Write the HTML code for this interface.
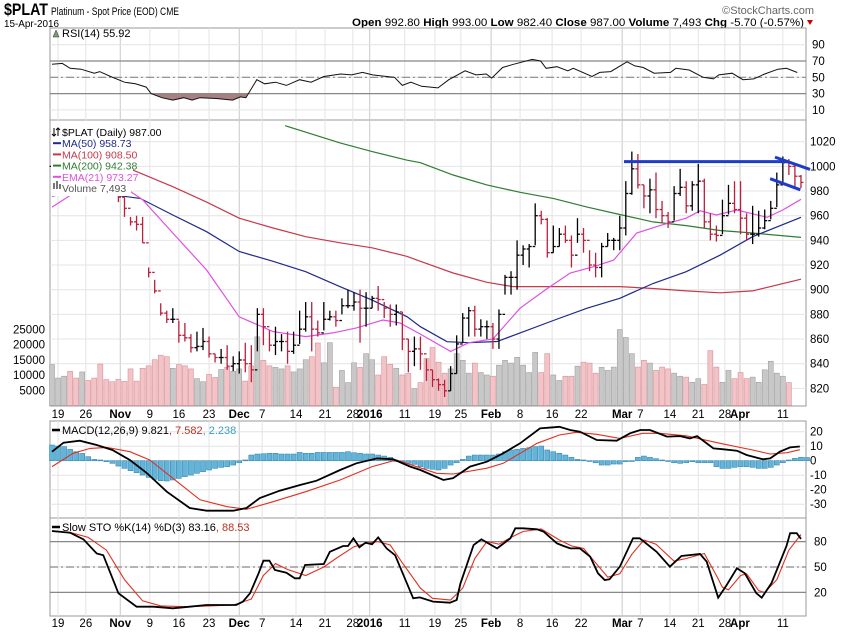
<!DOCTYPE html>
<html><head><meta charset="utf-8"><style>
html,body{margin:0;padding:0;background:#fff}
svg{display:block}
text{font-family:"Liberation Sans",sans-serif}
</style></head><body>
<svg id="chart" width="850" height="633" viewBox="0 0 850 633" xmlns="http://www.w3.org/2000/svg">
<g>
<text x="4" y="15" font-size="17" font-weight="bold" textLength="44" lengthAdjust="spacingAndGlyphs">$PLAT</text>
<text x="51" y="15" font-size="11" textLength="128" lengthAdjust="spacingAndGlyphs">Platinum  - Spot Price (EOD)  CME</text>
<text x="4" y="27" font-size="10" textLength="55" lengthAdjust="spacingAndGlyphs">15-Apr-2016</text>
<text x="814" y="14" font-size="11" fill="#666" text-anchor="end">©StockCharts.com</text>
<text x="804" y="26" font-size="11" text-anchor="end" textLength="452" lengthAdjust="spacingAndGlyphs"><tspan font-weight="bold">Open</tspan> 992.80 <tspan font-weight="bold">High</tspan> 993.00 <tspan font-weight="bold">Low</tspan> 982.40 <tspan font-weight="bold">Close</tspan> 987.00 <tspan font-weight="bold">Volume</tspan> 7,493 <tspan font-weight="bold">Chg</tspan> -5.70 (-0.57%)</text>
<polygon points="807,20 813,20 810,25" fill="#c00"/>
</g>
<g id="grid"></g>
<g id="marks"></g>
<g id="overlay"></g>
</svg>
<script>
// ---------- data ----------
const closes=[1000,1005,1008,1002,998,1003,1000,995,992,990,985,
975,966,955,953,938,914,899,881,876,876,863,861,853,854,858,848,845,845,838,840,843,840,835,880,870,855,858,858,850,855,868,878,868,865,876,878,875,887,887,890,885,885,893,892,885,880,882,860,850,852,848,
835,827,823,818,832,856,877,883,868,870,870,860,880,910,910,928,933,935,960,957,930,935,945,940,928,945,940,920,918,935,940,940,950,978,998,985,976,981,965,960,955,978,983,968,985,988,955,945,944,960,970,965,958,945,945,950,956,966,985,1003,1000,992,987];
const highs=[1006,1011,1014,1008,1004,1009,1006,1001,998,996,991,
983,975,959,960,959,918,908,889,883,885,875,873,864,866,869,862,848,852,855,846,850,857,855,885,885,867,870,864,866,866,883,890,890,875,890,883,883,893,900,898,900,898,895,903,890,888,888,882,860,862,862,
844,835,828,827,838,863,881,886,887,876,875,873,884,912,915,940,936,937,970,964,958,952,950,952,944,958,950,932,930,938,946,942,960,988,1012,1010,985,990,995,972,963,984,998,988,988,1002,990,962,952,973,985,988,988,962,968,964,965,972,995,1008,1006,1002,993];
const lows=[994,999,1002,996,992,997,994,989,986,984,979,
971,959,952,948,938,910,897,879,873,873,857,858,849,850,851,845,841,840,835,834,832,833,825,850,855,850,847,850,840,848,856,866,850,862,867,875,870,880,885,883,857,870,885,883,877,870,871,851,833,838,835,
826,821,818,813,818,832,857,862,862,862,860,852,852,896,896,900,920,918,936,953,926,930,935,938,918,938,930,915,910,910,935,932,932,944,977,982,966,962,958,954,950,956,976,962,964,962,950,940,939,945,961,962,945,940,937,943,949,957,967,987,993,983,982.4];
const volumes=[13.4,9.0,9.6,11.2,9.0,11.0,8.2,9.0,13.6,8.5,7.8,8.6,7.9,12.0,8.0,12.2,13.0,15.0,16.5,16.0,12.2,13.4,13.0,12.0,8.8,7.8,10.2,9.2,11.8,12.5,11.2,12.0,8.0,13.0,22.5,14.8,13.0,12.5,12.0,13.0,11.0,12.0,15.0,16.0,20.5,14.0,20.6,6.0,11.5,7.5,14.0,12.5,17.0,15.0,10.0,16.0,13.5,12.2,10.0,10.5,5.5,7.5,
15.4,19.0,14.2,10.6,12.0,17.0,14.8,10.6,13.9,10.8,10.0,9.6,13.2,14.8,13.9,15.8,13.2,10.8,17.4,10.8,17.0,10.0,8.2,9.6,9.6,12.9,14.2,13.9,10.6,12.5,11.5,12.6,24.9,22.3,17.0,12.6,14.8,13.9,11.5,12.6,12.0,10.6,9.6,9.3,7.6,8.8,6.9,18.0,12.6,7.6,11.5,8.8,10.8,8.8,9.3,7.6,11.7,14.5,10.6,9.6,7.5];
// moving averages: [bar index, value] samples
const ma50Idx=[0,3.5,9,14.6,20,25.6,31,36.6,42,47.7,53,58.8,61,65.4,69,73.7,77.5,83,88.6,94,99.5,105,110.6,116,124];
const ma50Val=[976,978.6,977.6,974,960.6,947,931,923,914.6,902.4,891.6,878,870,857.8,857,858,865,875,885,893,905,914.6,928,943,958.7];
const ma100Idx=[13.4,20,25.6,31,36.6,42,47.7,53,58.8,61,66.4,72,76.3,83,94,99.5,105,110.6,116,124];
const ma100Val=[997,983.5,971,958,950,943,938,934,927,923,913.5,906,902.5,902.5,902.5,901,899,897.5,899,908.5];
const ma200Idx=[38.6,47.7,53,58.8,61,66.4,72,77.5,83,88.6,94,99.5,105,110.6,116,124];
const ma200Val=[1033,1019,1012,1005,1003,993,985,979,974,967,961,955,952,948,946,942.4];
const emaIdx=[0,3.5,6.3,11.8,15,20,25.6,31,36.6,42,46.5,50.4,54.8,57.6,61,66,69,73,77.5,82,85.8,89.6,93,96.8,101,105,107.3,110,113.4,118.4,121,124];
const emaVal=[967,978,982,983.5,973,946,916,878,866,862,865,869,875.4,873,864,850,857,860,885,901,913.5,918.6,924,946,952.5,958,964,960.6,964.6,958.7,964.6,973.3];
// trend lines [idx0,price0,idx1,price1]
const trendLines=[[94.7,1003.8,121.8,1003.8],[119.7,1007.5,125.5,997.5],[118.9,990,123.9,981]];
// RSI
const rsiIdx=[0,1.7,3,4.8,7,7.9,9.7,12,13.8,15.6,16.4,18.2,20,21.8,23.2,24.5,27.2,29.9,31.2,32.1,33.9,35.2,37,38.8,41,42.9,45,47.8,49.6,51.4,53.1,55.4,56.7,58,59.4,61.2,63.9,65.7,68.4,70.2,71.9,72.8,74.6,76.4,79.5,80.9,81.8,83.6,85.4,86.3,89.4,90.7,92.5,95.2,96.5,97.9,99.7,102.4,103.3,105.5,107.8,109.5,110.4,112.6,114.4,116.2,118,120.2,121.6,123.4];
const rsiVal=[66,67,61,60,55,57,51,44,42,38,30,25,22,25,22,25,24,22,26,25,47,42,44,40,47,44,51,54,53,56,53,51,50,40,44,39,37,47,58,53,54,49,62,66,72,70,61,63,58,61,51,56,57,69,64,62,55,56,61,59,50,48,53,55,47,48,54,60,61,55.9];
// MACD
const macdIdx=[0,1.9,4.6,7.4,10,12.9,15.7,19,22.8,25.6,30,32.2,34.4,37.7,41,43.8,47.7,50.4,53.8,56.5,59.3,61,64.8,66.4,69.2,72,74.7,77.5,80.8,83,84,85.8,87.4,90.2,93.5,95.7,97.4,99,101.8,104,105.6,106.8,109.5,111,113.4,115,117.7,118.9,120.5,122.2,123.8];
const macdVal=[6.2,12.4,13.8,10.8,7.4,0.5,-8.5,-21.4,-32.6,-34.5,-34.5,-32.6,-25.7,-20.7,-16.8,-13.8,-6.4,-1.8,1.6,1,-4.1,-6.4,-13.3,-12,-4.1,-0.7,5.1,12,22.3,23,23.4,21.2,20,14.3,13.8,18.9,21.2,21.2,16.6,17,15.4,17,8.5,7.9,6.9,3.9,1,1.6,6.2,9.2,9.8];
const signalIdx=[0,3.5,6.3,9.1,12.9,16.2,20,24.5,29,32.2,36.6,42,47.7,53,57,63.7,66.4,72,74.7,77.5,80.3,84,86.8,90.2,94,97.8,100.6,105,110.6,116,118.9,121.7,123.8];
const signalVal=[-4.1,5.1,8.5,9.2,6.2,0.5,-12.1,-27,-31.7,-33.5,-28.3,-21.4,-13.3,-4.1,0.5,-8.7,-9.2,-5.2,-1.8,5.1,12,17.7,19.6,18.2,15.4,18.9,18.9,17.2,12,7.4,4.6,5.5,7.6];
const histVal=[10.8,10.1,9.7,7.8,6.2,5,2.8,0.9,0.5,-0.7,-1.8,-3.7,-5.3,-6.9,-8.3,-9.9,-11.5,-12.9,-13.8,-14,-13.3,-12.2,-11,-9.9,-8.7,-7.6,-6.4,-5.3,-4.6,-4.1,-3,-1.4,0.5,3.9,4.6,4.8,5.1,5.1,4.6,4.6,4.6,5.7,5.1,5.1,5.7,5.7,5.7,5.7,5.7,6.2,5.5,5.1,4.6,4.6,3.9,3.2,2.3,0,-0.9,-1.8,-2.5,
-4.1,-5.3,-5.9,-6.4,-5.3,-3,-1.4,0.9,3.2,3.9,3.9,3.9,3.9,4.6,6.2,7.4,7.8,8.5,9,9.7,10.1,7.4,6.2,5.1,3.9,2.3,0.9,0.5,0,-1.4,-3,-3,-2.3,-2.3,-0.7,0,2.3,3.2,2.3,1.4,0.5,0,-1.4,-1.8,-1.4,-0.7,-1.4,-1.4,-1.4,-4.1,-5.3,-5.3,-4.6,-4.1,-4.1,-4.6,-5.3,-5.3,-4.6,-3,-1.4,0.5,1.6,2.3,2.2];
// Slow stochastic
const stoKIdx=[0,3,5.2,7.4,8.5,11,14,16.8,20,22.8,25.6,30.5,31.6,32.8,34.2,35,36,36.9,38.8,40.2,41,41.9,45,46,48.2,49,49.9,50.9,51.9,53,54,55.4,56.8,59.8,60.9,63.1,65.9,67,67.6,69.8,71.1,73.7,75.9,76.7,78,80.3,81.4,83.6,84.7,85.8,87.4,89.1,90.4,91.5,92.3,94,96.2,97.3,100.1,102.3,104.2,107.3,108.4,110.3,111.7,113.4,114.7,116.6,117.5,119.1,121.6,122.2,123.3,124];
const stoKVal=[92.6,90.6,82.8,66,64,19,3,3,1.1,3,5,5,9,19,42.5,57.5,57.5,46.5,43.3,36.6,36.6,52.4,53.5,68,74.8,74.8,84,73.3,78.8,77,85,72,64,13,14,9,7.8,11,30,76,82.8,72,84,95.8,95.8,94.6,91.8,78,74.8,72,72,62.2,42.5,34.6,35.5,50.4,84,84,68,50.4,63,65.4,56.3,13.7,28.7,48.5,42.5,19,13.7,30.7,74.8,90,90,83.2];
const stoDIdx=[0,3,6,9,12,15,18,22,26,30,33,35,37,39,42,45,47,50,52,54,56,58,61,63,66,68,70,72,74,76,78,81,84,86,88,90,92,94,96,98,100,103,105,108,110,111,112,114,115,117,118,120,122,124];
const stoDVal=[92,91,85,70,35,10,4,3,4,5,12,40,54,47,40,50,60,74,78,80,76,55,25,13,11,25,60,80,77,85,92,95,82,75,72,55,38,42,65,82,77,57,60,66,40,26,23,40,42,22,20,35,70,88.5];
// axis ticks and labels
const dateLabels=['19','26','Nov','9','16','23','Dec','7','14','21','28','2016','11','19','25','Feb','8','16','22','Mar','7','14','21','28','Apr','11'];
const dateIdx=[1,5.6,11.3,16.2,21,26,31,34.8,40.4,45.2,49.8,52.6,58.4,63.4,67.7,72.7,77.5,82.8,87.6,94.4,97.4,102.3,107,111.4,113.9,121];
const priceTicks=[1020,1000,980,960,940,920,900,880,860,840,820];
const volTicks=[25000,20000,15000,10000,5000];
const rsiTicks=[90,70,50,30,10];
const macdTicks=[20,10,0,-10,-20,-30];
const stoTicks=[80,50,20];

// ---------- axes ----------
const L=50,R=806;
const x=i=>52+i*6.04;
const yP=p=>141.7+(1020-p)*1.2333;
const yV=v=>405.5-v*3.05; // v in thousands
const yR=v=>77.3-(v-50)*0.815;
const yM=v=>460.7-v*1.45;
const yS=v=>567-(v-50)*0.845;
const NS='http://www.w3.org/2000/svg';
const G=document.getElementById('grid'),M=document.getElementById('marks'),O=document.getElementById('overlay');
function mk(tag,attrs,parent){const e=document.createElementNS(NS,tag);for(const k in attrs)e.setAttribute(k,attrs[k]);parent.appendChild(e);return e;}
function txt(s,xx,yy,parent,extra){const t=mk('text',Object.assign({x:xx,y:yy,'font-size':11},extra||{}),parent);t.textContent=s;return t;}
function poly(idx,val,yf){return idx.map((v,k)=>x(v).toFixed(1)+','+yf(val[k]).toFixed(1)).join(' ');}

const panels=[[28,120],[120,406],[421,518],[518,616]];
const panelNames=['rsi-panel','price-panel','macd-panel','sto-panel'];
panels.forEach((p,k)=>{
  const r=mk('rect',{x:L,y:p[0],width:R-L,height:p[1]-p[0],fill:'#fff',stroke:'#999','stroke-width':1},G);
  
  
});
// vertical grid
dateIdx.forEach((d,k)=>{
  const major=/[A-Za-z]|2016/.test(dateLabels[k]);
  panels.forEach(p=>{
    const ln=mk('line',{x1:x(d),x2:x(d),y1:p[0],y2:p[1],stroke:major?'#c8c8c8':'#e4e4e4','stroke-width':1},G);
    
    
  });
  [[418,'x-axis-label'],[627,'bottom-x-axis-label']].forEach(([yy,nm])=>{
    const t=txt(dateLabels[k],x(d),yy,G,{'text-anchor':'middle','font-size':11.5,'font-weight':major?'bold':'normal'});
    
    
  });
});
// horizontal grids
function hgrid(ticks,yf,name,labelX){
  ticks.forEach(t=>{
    const ln=mk('line',{x1:L,x2:R,y1:yf(t),y2:yf(t),stroke:'#e4e4e4'},G);
    
    
    const lb=txt(String(t),labelX,yf(t)+4,G,{'font-size':11.5});
    
    
  });
}
hgrid(priceTicks,yP,'price',810);
hgrid(rsiTicks,yR,'rsi',812);
hgrid(macdTicks,yM,'macd',810);
hgrid(stoTicks,yS,'sto',814);
volTicks.forEach(t=>{
  const lb=txt(String(t),45,yV(t/1000)+4,G,{'text-anchor':'end','font-size':11.5});
  
  
});
function refLine(yy,dash,name){
  const ln=mk('line',{x1:L,x2:R,y1:yy,y2:yy,stroke:'#888','stroke-width':1.2},G);
  if(dash)ln.setAttribute('stroke-dasharray','8,3,2,3');
  
  
}
refLine(yR(70),false,'rsi-overbought-line');refLine(yR(30),false,'rsi-oversold-line');refLine(yR(50),true,'rsi-midline');
refLine(yS(80),false,'sto-overbought-line');refLine(yS(20),false,'sto-oversold-line');refLine(yS(50),true,'sto-midline');

// ---------- RSI ----------
const defs=mk('defs',{},M);
const c1=mk('clipPath',{id:'below30'},defs);mk('rect',{x:L,y:yR(30),width:R-L,height:120-yR(30)},c1);
const c2=mk('clipPath',{id:'above70'},defs);mk('rect',{x:L,y:28,width:R-L,height:yR(70)-28},c2);
const rsiPts=poly(rsiIdx,rsiVal,yR);
const f1=mk('polygon',{points:x(rsiIdx[0])+','+yR(30)+' '+rsiPts+' '+x(rsiIdx[rsiIdx.length-1])+','+yR(30),fill:'#a88080','clip-path':'url(#below30)'},M);


const f2=mk('polygon',{points:x(rsiIdx[0])+','+yR(70)+' '+rsiPts+' '+x(rsiIdx[rsiIdx.length-1])+','+yR(70),fill:'#7a9a7a','clip-path':'url(#above70)'},M);


const rl=mk('polyline',{points:rsiPts,fill:'none',stroke:'#111','stroke-width':1},M);



// ---------- volume ----------
volumes.forEach((v,i)=>{
  const up=i===0||closes[i]>=closes[i-1];
  const b=mk('rect',{x:x(i)-2.5,y:yV(v),width:5,height:405.5-yV(v),fill:up?'#c8c8c8':'#f2c4c8',stroke:up?'#a0a0a0':'#d89098','stroke-width':0.6},M);
  
  
});
// ---------- MAs ----------
[[ma100Idx,ma100Val,'#c8384a','ma100-line'],[ma200Idx,ma200Val,'#2e7d32','ma200-line'],[ma50Idx,ma50Val,'#1e2a8a','ma50-line'],[emaIdx,emaVal,'#e050e0','ema21-line']].forEach(([ix,vv,col,nm])=>{
  const l=mk('polyline',{points:poly(ix,vv,yP),fill:'none',stroke:col,'stroke-width':1.2},M);
  
  
});
// ---------- price bars ----------
closes.forEach((c,i)=>{
  const o=i===0?c:closes[i-1];
  const up=i===0||c>=closes[i-1];
  const col=up?'#000':'#b8203c';
  const g=mk('g',{stroke:col,'stroke-width':1.3},M);
  
  
  mk('line',{x1:x(i),x2:x(i),y1:yP(highs[i]),y2:yP(lows[i])},g);
  mk('line',{x1:x(i)-2.5,x2:x(i),y1:yP(o),y2:yP(o)},g);
  mk('line',{x1:x(i),x2:x(i)+2.5,y1:yP(c),y2:yP(c)},g);
});
// trend lines
trendLines.forEach(t=>{
  const l=mk('line',{x1:x(t[0]),y1:yP(t[1]),x2:x(t[2]),y2:yP(t[3]),stroke:'#1e3ccc','stroke-width':3},M);
  
  
});
// ---------- MACD ----------
histVal.forEach((v,i)=>{
  const y0=yM(0),y1=yM(v);
  const b=mk('rect',{x:x(i)-2.5,y:Math.min(y0,y1),width:5,height:Math.max(0.8,Math.abs(y1-y0)),fill:'#62b4d8',stroke:'#3a8ab4','stroke-width':0.6},M);
  
  
});
const sl=mk('polyline',{points:poly(signalIdx,signalVal,yM),fill:'none',stroke:'#e03020','stroke-width':1.1},M);


const ml=mk('polyline',{points:poly(macdIdx,macdVal,yM),fill:'none',stroke:'#000','stroke-width':1.8},M);


// ---------- STO ----------
const dl=mk('polyline',{points:poly(stoDIdx,stoDVal,yS),fill:'none',stroke:'#e03020','stroke-width':1.1},M);


const kl=mk('polyline',{points:poly(stoKIdx,stoKVal,yS),fill:'none',stroke:'#000','stroke-width':1.8},M);



// ---------- legends ----------
const rl1=txt('RSI(14) 55.92',62,37,O,{'font-size':11});


mk('polygon',{points:'53,37 56,30 59,37',fill:'#7a9a7a',stroke:'#333','stroke-width':0.5},O);
const lgBg=mk('rect',{x:51,y:121,width:80,height:75,fill:'#fff'},O);


const legendRows=[['$PLAT (Daily) 987.00','#000',null],['MA(50) 958.73','#1e2a8a','#1e2a8a'],['MA(100) 908.50','#c8384a','#c8384a'],['MA(200) 942.38','#2e7d32','#2e7d32'],['EMA(21) 973.27','#e050e0','#e050e0'],['Volume 7,493','#555',null]];
legendRows.forEach((r,k)=>{
  const yy=136+k*11.2;
  const t=txt(r[0],62,yy,O,{'font-size':10.5,fill:r[1]});
  
  
  if(r[2])mk('line',{x1:53,x2:61,y1:yy-4,y2:yy-4,stroke:r[2],'stroke-width':2},O);
});
mk('rect',{x:53,y:183,width:2,height:6,fill:'#777'},O);mk('rect',{x:56,y:181,width:2,height:8,fill:'#777'},O);mk('rect',{x:59,y:184,width:2,height:5,fill:'#777'},O);
mk('path',{d:'M54,128 v8 M52,134 l2,2 l2,-2 M58,136 v-8 M56,130 l2,-2 l2,2',stroke:'#000',fill:'none','stroke-width':1},O);
const mlg=txt('',62,434,O,{'font-size':11});
mlg.innerHTML='MACD(12,26,9) 9.821<tspan fill="#c03020">, 7.582</tspan><tspan fill="#3aa0c0">, 2.238</tspan>';


mk('line',{x1:52,x2:60,y1:430,y2:430,stroke:'#000','stroke-width':2.5},O);
const slg=txt('',62,531,O,{'font-size':11});
slg.innerHTML='Slow STO %K(14) %D(3) 83.16<tspan fill="#c03020">, 88.53</tspan>';


mk('line',{x1:52,x2:60,y1:527,y2:527,stroke:'#000','stroke-width':2.5},O);
</script>
</body></html>
